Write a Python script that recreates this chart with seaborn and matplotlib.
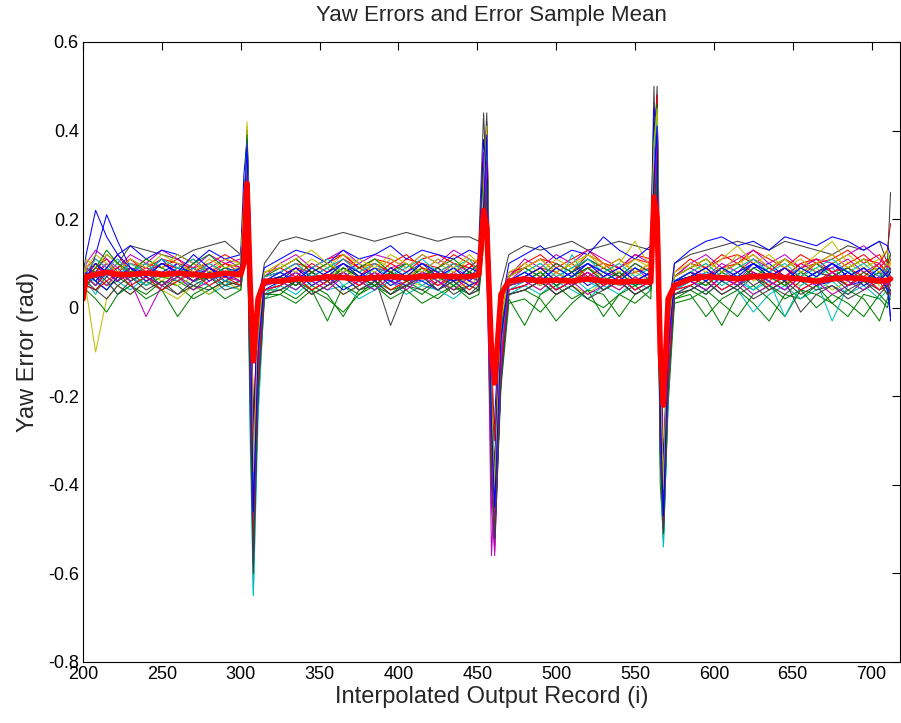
import numpy as np
import pandas as pd
import matplotlib
matplotlib.use("Agg")
import matplotlib.pyplot as plt
import seaborn as sns

# shared sample positions (interpolated output record index)
x_grid = [200, 202, 208, 215, 222, 230, 240, 250, 260, 270, 280, 290, 300,
          302, 304, 306, 308, 311, 315,
          325, 335, 345, 355, 365, 375, 385, 395, 405, 415, 425, 435, 445, 451,
          454, 456, 459, 461, 465, 470,
          480, 490, 500, 510, 520, 530, 540, 550, 560,
          562, 564, 566, 568, 571, 575,
          585, 595, 605, 615, 625, 635, 645, 655, 665, 675, 685, 695, 705, 710, 712]

# individual yaw error runs (rad)
run01 = [.03,.06,.12,.21,.15,.09,.08,.10,.09,.08,.07,.09,.08, .12,.38,.10,-.35,-.05,.05, .06,.09,.07,.06,.08,.10,.07,.06,.05,.08,.07,.06,.07,.09, .30,.10,-.40,-.25,.02,.06, .07,.05,.08,.06,.09,.07,.05,.06,.08, .40,.15,-.30,-.45,-.05,.04, .06,.08,.07,.05,.09,.10,.07,.06,.08,.07,.05,.06,.08,.04,.06]
run02 = [.05,.08,.06,.04,.07,.05,.03,.06,.05,.02,.04,.06,.05, .20,.33,-.05,-.45,-.10,.04, .04,.02,.05,.03,-.02,.04,.05,.03,.06,.04,.02,.05,.03,.04, .25,.30,-.35,-.45,-.05,.03, .04,.02,-.03,.01,.04,.03,-.02,.03,.05, .30,.42,-.10,-.45,-.15,.02, .03,-.02,.02,.04,.01,-.03,.03,.02,.05,.01,-.02,.03,.02,.00,.03]
run03 = [.04,.07,.09,.11,.08,.10,.09,.11,.10,.09,.10,.08,.09, .15,.30,.12,-.25,-.02,.07, .08,.10,.09,.11,.12,.09,.10,.08,.11,.10,.09,.12,.10,.09, .20,.40,-.10,-.30,.00,.08, .09,.11,.10,.08,.12,.10,.09,.11,.10, .25,.45,.05,-.35,-.10,.07, .10,.09,.11,.12,.10,.08,.11,.09,.10,.12,.09,.11,.10,.13,.19]
run04 = [.02,.05,.04,.06,.03,.05,.07,.04,.06,.05,.03,.05,.04, .10,.25,-.20,-.65,-.20,.02, .05,.03,.06,.04,.05,.02,.04,.06,.03,.05,.04,.02,.05,.04, .15,.35,-.15,-.50,-.10,.03, .05,.03,.06,.04,.02,.05,.03,.06,.04, .20,.38,-.20,-.54,-.20,.03, .05,.03,.06,.04,-.01,.03,.05,.02,.04,.06,.03,.05,.02,.04,.05]
run05 = [.03,.06,.08,.10,.07,.09,.06,.08,.07,.10,.08,.06,.08, .18,.35,.00,-.40,-.08,.06, .07,.09,.06,.08,.10,.07,.09,.08,.06,.09,.07,.10,.08,.07, .35,.20,-.56,-.40,-.05,.06, .08,.06,.09,.07,.10,.08,.07,.09,.06, .35,.30,-.25,-.40,-.08,.06, .08,.07,.09,.06,.10,.08,.07,.09,.11,.08,.06,.09,.07,.10,.08]
run06 = [.01,.04,-.10,.02,.05,.03,.06,.04,.02,.05,.03,.06,.04, .12,.42,.05,-.62,-.15,.04, .05,.07,.04,.06,.03,.05,.07,.04,.06,.05,.07,.04,.06,.05, .22,.38,-.20,-.48,-.08,.05, .06,.04,.07,.05,.03,.06,.04,.07,.05, .28,.46,-.15,-.50,-.12,.05, .06,.04,.07,.05,.08,.04,.06,.05,.07,.04,.06,.08,.05,.03,.06]
run07 = [.05,.09,.08,.12,.10,.14,.13,.12,.11,.13,.14,.15,.12, .20,.40,.15,-.30,.00,.10, .15,.16,.15,.16,.17,.16,.15,.16,.17,.16,.15,.16,.16,.15, .44,.25,-.25,-.35,.05,.12, .14,.13,.14,.15,.13,.14,.15,.14,.13, .50,.20,-.30,-.42,-.02,.10, .12,.13,.14,.15,.14,.13,.15,.14,.13,.12,.14,.13,.15,.10,.26]
run08 = [.04,.08,.10,.07,.09,.06,.08,.11,.07,.09,.06,.08,.07, .22,.36,-.10,-.50,-.12,.05, .07,.05,.08,.06,.09,.07,.05,.08,.06,.07,.09,.06,.08,.07, .28,.42,-.30,-.52,-.12,.05, .07,.09,.06,.08,.05,.07,.09,.06,.08, .38,.48,-.20,-.48,-.10,.06, .07,.09,.06,.08,.10,.07,.09,.06,.08,.10,.07,.09,.06,.08,-.03]
run09 = [.02,.05,.07,.05,.06,.08,.05,.07,.06,.04,.07,.05,.06, .14,.28,-.15,-.55,-.18,.03, .03,.06,.04,-.03,.05,.03,.06,.04,.05,.03,.06,.04,.05,.06, .18,.33,-.40,-.48,-.15,.02, -.04,.03,.05,.02,.04,-.02,.03,.05,.02, .25,.35,-.35,-.52,-.18,.02, .04,.02,-.04,.03,.05,.02,-.02,.04,.03,.01,.04,.02,-.03,.02,.04]
run10 = [.06,.09,.11,.09,.12,.08,.10,.09,.11,.08,.10,.12,.10, .25,.32,.08,-.35,-.05,.08, .09,.11,.08,.10,.12,.09,.11,.10,.08,.11,.12,.10,.09,.11, .32,.36,-.15,-.40,-.02,.07, .10,.12,.09,.11,.13,.10,.09,.12,.11, .42,.38,-.10,-.38,-.05,.08, .11,.09,.12,.10,.13,.11,.09,.12,.10,.11,.13,.10,.12,.09,.11]
run11 = [.03,.07,.05,.08,.06,.04,.07,.05,.08,.06,.05,.07,.06, .16,.30,-.05,-.48,-.12,.05, .06,.04,.07,.05,.08,.06,.04,.07,.05,.06,.08,.05,.07,.06, .24,.32,-.30,-.45,-.10,.04, .06,.08,.05,.07,.04,.06,.08,.05,.07, .32,.40,-.25,-.46,-.14,.04, .06,.05,.08,.06,.04,.07,.05,.08,.06,-.03,.05,.07,.06,.08,.05]
run12 = [.04,.10,.13,.11,.09,.12,.10,.13,.11,.09,.12,.10,.11, .24,.34,.02,-.38,-.06,.07, .10,.12,.09,.11,.13,.10,.12,.11,.09,.12,.10,.13,.11,.10, .26,.38,-.45,-.55,-.10,.07, .11,.09,.12,.10,.13,.11,.09,.12,.10, .30,.44,-.28,-.44,-.06,.07, .10,.12,.09,.11,.13,.10,.12,.09,.11,.10,.12,.14,.11,.09,.12]
run13 = [.05,.08,.06,.09,.07,.10,.08,.06,.09,.07,.10,.08,.07, .18,.41,.10,-.45,-.10,.06, .08,.06,.09,.07,.10,.08,.11,.09,.07,.10,.08,.06,.09,.08, .20,.34,-.25,-.42,-.06,.06, .08,.10,.07,.09,.06,.08,.10,.15,.09, .26,.36,-.18,-.40,-.08,.06, .08,.10,.07,.09,.11,.08,.06,.09,.12,.15,.10,.08,.09,.07,.10]
run14 = [.03,.05,.04,.07,.05,.03,.06,.04,.07,.05,.04,.06,.05, .12,.22,-.12,-.52,-.14,.04, .05,.07,.04,.06,.03,.05,.07,-.04,.05,.04,.06,.03,.05,.04, .16,.30,-.35,-.50,-.12,.03, .04,.06,.03,.05,.07,.04,.06,.03,.05, .22,.32,-.30,-.50,-.16,.03, .05,.03,.06,.04,.07,.05,.03,.06,.04,.05,.03,.06,.04,.05,.03]
run15 = [.07,.12,.22,.16,.12,.14,.11,.13,.12,.10,.13,.11,.12, .30,.38,.20,-.28,.02,.09, .11,.13,.12,.10,.13,.11,.12,.14,.11,.13,.12,.11,.13,.12, .38,.30,-.20,-.38,.00,.10, .12,.14,.11,.13,.12,.16,.13,.11,.14, .45,.40,-.12,-.36,-.02,.10, .13,.15,.16,.14,.15,.13,.16,.15,.14,.16,.15,.13,.15,.14,.12]
run16 = [.02,.04,.02,-.01,.03,.05,.02,.04,-.02,.03,.05,.02,.04, .10,.26,-.25,-.58,-.22,.02, .03,.01,.04,.02,-.01,.03,.05,.02,.04,.01,.03,.05,.02,.03, .14,.28,-.38,-.54,-.18,.01, .02,-.01,.03,.05,.02,.00,.03,.01,.04, .18,.30,-.40,-.52,-.22,.01, .02,.04,.01,-.02,.03,.05,.02,.04,.00,.03,.01,-.02,.03,.01,.02]
run17 = [.05,.07,.09,.08,.10,.07,.09,.08,.06,.09,.07,.10,.08, .20,.34,.04,-.42,-.08,.06, .07,.09,.08,.06,.09,.07,.10,.08,.07,.09,.06,.08,.10,.08, .24,.36,-.28,-.46,-.06,.06, .07,.09,.08,.06,.09,.10,.07,.08,.09, .34,.42,-.22,-.44,-.08,.06, .08,.07,.09,.10,.08,.06,.09,.07,.10,.08,.09,.07,.10,.08,.07]
run18 = [.04,.06,.03,.08,.10,.07,.05,.08,.06,.09,.07,.05,.08, .14,.24,-.30,-.65,-.25,.03, .06,.04,.07,.09,.05,.07,.04,.06,.08,.05,.07,.09,.06,.05, .18,.32,-.32,-.50,-.14,.04, .05,.07,.04,.12,.06,.04,.07,.05,.06, .24,.34,-.34,-.54,-.20,.04, .06,.08,.05,.07,.04,.06,-.02,.05,.07,.09,.06,.04,.07,.05,.06]
run19 = [.06,.09,.07,.10,.08,.11,.09,.07,.10,.08,.09,.11,.09, .22,.36,.06,-.44,-.10,.07, .08,.10,.07,.09,.11,.08,.06,.09,.10,.08,.11,.09,.07,.09, .30,.40,-.35,-.56,-.14,.06, .09,.07,.10,.08,.11,.09,.07,.10,.08, .36,.42,-.20,-.46,-.10,.07, .09,.07,.10,.08,.11,.09,.07,.10,.08,.09,.11,.08,.10,.07,.09]
run20 = [.03,.06,.08,.05,.07,.09,.06,.08,.05,.07,.09,.06,.07, .16,.32,-.08,-.50,-.12,.05, .06,.08,.05,.07,.09,.06,.08,.05,.07,.09,.06,.08,.05,.07, .22,.34,-.30,-.48,-.10,.05, .07,.05,.08,.06,.09,.07,.05,.08,.06, .28,.40,-.26,-.48,-.12,.05, .07,.05,.08,.12,.06,.08,.05,.07,.09,.06,.08,.05,.07,.09,.06]
run21 = [.02,.07,.05,.09,.06,.08,.10,.07,.09,.06,.08,.07,.09, .14,.30,-.02,-.40,-.08,.06, .07,.05,.08,.06,.09,.07,.05,.08,.06,.07,.09,.06,.08,.07, .28,.44,-.22,-.44,-.06,.05, .06,.08,.05,.07,.09,.06,.08,.05,.07, .32,.50,-.18,-.42,-.06,.06, .07,.09,.06,.08,.05,.07,.09,.06,.08,.07,.05,.08,.06,.09,.07]
run22 = [.05,.08,.06,.04,.07,.09,.06,.08,.10,.07,.09,.06,.08, .18,.34,-.18,-.58,-.16,.04, .06,.08,.05,.07,.04,.06,.08,.05,.07,.06,.04,.07,.05,.06, .20,.36,-.32,-.52,-.16,.04, .05,.07,.04,.06,.08,.05,.07,.04,.06, .40,.46,-.28,-.50,-.14,.05, .06,.04,.07,.05,.08,.06,.04,.07,.05,.06,.08,.05,.07,.04,-.02]
run23 = [.04,.07,.05,.08,.06,.09,.07,.05,.08,.06,.07,.09,.07, .20,.39,.00,-.47,-.10,.05, .07,.05,.08,.06,.09,.07,.05,.08,.06,.09,.07,.05,.08,.06, .26,.38,-.26,-.46,-.08,.05, .06,.08,.05,.07,.09,.06,.08,.05,.07, .30,.44,-.22,-.46,-.10,.06, .07,.05,.08,.06,.09,.07,.05,.08,.06,.07,.09,.06,.08,.05,.07]
run24 = [.05,.08,.10,.08,.09,.11,.08,.10,.09,.11,.08,.10,.09, .26,.31,.12,-.32,-.04,.08, .09,.07,.10,.08,.11,.09,.07,.10,.12,.09,.08,.10,.09,.11, .22,.40,-.18,-.42,-.04,.07, .09,.11,.08,.10,.07,.09,.11,.08,.10, .34,.48,-.16,-.40,-.06,.07, .09,.11,.08,.10,.12,.09,.07,.10,.11,.08,.10,.12,.09,.11,.08]
run25 = [.04,.07,.06,.09,.11,.08,.10,.07,.09,.11,.08,.06,.09, .12,.28,.02,-.44,-.10,.06, .08,.06,.09,.11,.08,.06,.09,.07,.10,.08,.06,.09,.11,.08, .18,.30,-.22,-.40,-.06,.06, .08,.06,.09,.07,.10,.08,.06,.09,.07, .22,.36,-.20,-.42,-.08,.06, .08,.06,.09,.07,.10,.08,.06,.09,.07,.10,.08,.06,.09,.07,.08]
run26 = [.03,.09,.07,.05,.08,.06,-.02,.05,.07,.04,.06,.08,.06, .18,.35,-.12,-.52,-.14,.04, .05,.08,.06,.04,.07,.05,.08,.06,.04,.07,.05,.08,.06,.05, .24,.35,-.33,-.50,-.12,.04, .05,.07,.04,.06,.03,.05,.07,.04,.06, .28,.38,-.30,-.50,-.14,.04, .05,.07,.04,.06,.03,.05,.07,.04,.06,.03,.05,.07,.04,.06,.03]
run27 = [.06,.11,.09,.12,.10,.08,.11,.09,.12,.10,.08,.11,.10, .22,.37,.08,-.36,-.06,.08, .10,.08,.11,.09,.12,.10,.08,.11,.09,.12,.10,.08,.11,.10, .26,.39,-.20,-.44,-.04,.08, .10,.08,.11,.09,.12,.10,.08,.11,.09, .36,.44,-.15,-.40,-.04,.08, .10,.08,.11,.14,.10,.12,.09,.11,.08,.10,.12,.09,.11,.13,.10]
run28 = [.02,.05,.08,.06,.03,.06,.08,.05,.03,.06,.08,.05,.06, .15,.29,-.22,-.60,-.20,.03, .04,.06,.03,.05,.07,.04,.06,.03,.05,.07,.04,.06,.03,.05, .16,.26,-.36,-.52,-.16,.03, .04,.06,.03,.05,.02,.04,.06,.03,.05, .20,.34,-.32,-.50,-.18,.03, .04,.06,.03,.05,.02,.04,.06,-.01,.03,.05,.02,.04,.06,.03,.04]
run29 = [.05,.07,.10,.08,.06,.09,.07,.10,.08,.06,.09,.07,.08, .20,.33,.03,-.41,-.09,.06, .07,.09,.06,.08,.10,.07,.09,.06,.08,.10,.07,.09,.06,.08, .28,.37,-.24,-.45,-.07,.06, .07,.09,.06,.08,.10,.07,.09,.06,.08, .33,.41,-.19,-.44,-.07,.06, .07,.09,.06,.08,.10,.07,.09,.06,.08,.10,.07,.09,.06,.08,.09]
run30 = [.04,.06,.09,.13,.10,.08,.11,.09,.07,.10,.12,.09,.10, .24,.36,.06,-.39,-.07,.07, .09,.11,.08,.10,.07,.09,.11,.08,.10,.07,.09,.11,.08,.10, .30,.38,-.18,-.43,-.05,.07, .09,.07,.10,.08,.11,.09,.07,.10,.08, .38,.46,-.14,-.42,-.05,.07, .09,.11,.08,.10,.07,.09,.11,.08,.10,.07,.09,.11,.08,.10,.12]
run31 = [.03,.05,.04,.06,.08,.05,.07,.04,.06,.08,.05,.07,.05, .13,.27,-.14,-.54,-.15,.04, .05,.07,.04,.06,.08,.05,.07,.04,.06,.08,.05,.07,.04,.06, .20,.31,-.34,-.49,-.13,.04, .05,.07,.04,.06,.08,.05,.07,.04,.06, .26,.37,-.29,-.49,-.15,.04, .05,.07,.04,.06,.08,.05,.07,.04,.06,.08,.05,.07,.04,.06,.05]
run32 = [.06,.08,.11,.09,.07,.10,.08,.11,.09,.07,.10,.08,.09, .21,.35,.05,-.43,-.09,.07, .08,.10,.07,.09,.11,.08,.10,.07,.09,.11,.08,.10,.07,.09, .25,.37,-.27,-.47,-.09,.06, .08,.10,.07,.09,.11,.08,.10,.07,.09, .31,.43,-.21,-.45,-.09,.06, .08,.10,.07,.09,.11,.08,.10,.07,.09,.11,.08,.10,.07,.09,.08]
run33 = [.04,.07,.05,.08,.06,.09,.07,.05,.08,.06,.09,.07,.06, .17,.31,-.06,-.47,-.11,.05, .06,.04,.07,.05,.08,.06,.04,.07,.05,.08,.06,.04,.07,.06, .21,.33,-.29,-.47,-.11,.05, .06,.04,.07,.05,.08,.06,.04,.07,.05, .27,.39,-.24,-.47,-.11,.05, .06,.04,.07,.05,.08,.06,.04,.07,.05,.08,.06,.04,.07,.05,.06]
run34 = [.05,.09,.12,.10,.08,.11,.09,.12,.10,.08,.11,.09,.10, .23,.34,.07,-.37,-.06,.08, .09,.11,.13,.10,.08,.11,.09,.12,.10,.08,.11,.09,.12,.10, .27,.41,-.21,-.41,-.03,.07, .09,.11,.08,.10,.12,.09,.11,.08,.10, .37,.45,-.17,-.41,-.06,.07, .09,.11,.08,.10,.12,.09,.11,.08,.10,.12,.09,.11,.08,.10,.09]
run35 = [.03,.06,.04,.02,.05,.07,.04,.06,.03,.05,.07,.04,.05, .11,.23,-.19,-.57,-.19,.03, .04,.06,.03,.05,.07,.04,.06,.03,.05,.07,.04,.06,.03,.04, .17,.29,-.37,-.51,-.17,.03, .04,.06,.03,.05,.07,.04,.06,.03,.05, .21,.33,-.33,-.51,-.19,.03, .04,.06,.03,.05,.07,.04,.06,.03,.05,.07,.04,.06,.03,.05,.04]
run36 = [.05,.08,.06,.09,.12,.09,.07,.10,.08,.12,.09,.07,.09, .19,.37,.01,-.46,-.10,.06, .08,.06,.09,.07,.10,.08,.06,.09,.07,.10,.08,.06,.09,.08, .23,.39,-.26,-.45,-.07,.06, .08,.06,.09,.07,.10,.08,.06,.09,.07, .29,.41,-.23,-.47,-.09,.06, .08,.06,.09,.07,.10,.08,.06,.09,.07,.10,.08,.06,.09,.07,.08]

# error sample mean (rad)
sample_mean = [.02,.07,.075,.08,.075,.075,.078,.075,.078,.075,.072,.078,.075, .10,.28,.05,-.12,.02,.06, .06,.065,.065,.07,.068,.065,.068,.07,.068,.07,.072,.07,.07,.075, .22,.18,-.10,-.17,.03,.06, .065,.06,.062,.06,.065,.06,.058,.06,.058, .25,.20,-.10,-.22,.02,.05, .065,.07,.068,.065,.07,.072,.068,.065,.06,.065,.068,.065,.06,.062,.065]

runs = [run01, run02, run03, run04, run05, run06, run07, run08, run09, run10, run11, run12,
        run13, run14, run15, run16, run17, run18, run19, run20, run21, run22, run23, run24,
        run25, run26, run27, run28, run29, run30, run31, run32, run33, run34, run35, run36]

x_ticks = [200, 250, 300, 350, 400, 450, 500, 550, 600, 650, 700]
y_ticks = [-0.8, -0.6, -0.4, -0.2, 0, 0.2, 0.4, 0.6]
y_tick_labels = ["-0.8", "-0.6", "-0.4", "-0.2", "0", "0.2", "0.4", "0.6"]

# MATLAB classic colour order
matlab_colors = [(0, 0, 1), (0, 0.5, 0), (1, 0, 0), (0, 0.75, 0.75),
                 (0.75, 0, 0.75), (0.75, 0.75, 0), (0.25, 0.25, 0.25)]

sns.set_style("white")
plt.rcParams['font.family'] = ['Liberation Sans', 'DejaVu Sans']

rows = []
for i, r in enumerate(runs):
    for xv, yv in zip(x_grid, r):
        rows.append((i, xv, yv))
df = pd.DataFrame(rows, columns=["run", "record", "err"])
palette = {i: matlab_colors[i % 7] for i in range(len(runs))}

fig = plt.figure(figsize=(9.01, 7.23), dpi=100)
ax = fig.add_axes([83 / 901, 61 / 723, 817 / 901, 620 / 723])

sns.lineplot(data=df, x="record", y="err", hue="run", palette=palette,
             estimator=None, sort=False, legend=False, linewidth=0.75, ax=ax)
mean_df = pd.DataFrame({"record": x_grid, "err": sample_mean})
sns.lineplot(data=mean_df, x="record", y="err", color=(1, 0, 0),
             estimator=None, sort=False, linewidth=4, ax=ax)

ax.set_xlim(200, 718)
ax.set_ylim(-0.8, 0.6)
ax.set_xticks(x_ticks)
ax.set_xticklabels([str(t) for t in x_ticks])
ax.set_yticks(y_ticks)
ax.set_yticklabels(y_tick_labels)
ax.tick_params(direction="in", length=6, width=0.8, top=True, right=True,
               labelsize=13, colors="black", pad=3)
for s in ax.spines.values():
    s.set_visible(True)
    s.set_color("black")
    s.set_linewidth(0.8)

ax.set_title("Yaw Errors and Error Sample Mean", fontsize=16, pad=15)
ax.set_xlabel("Interpolated Output Record (i)", fontsize=17, labelpad=2)
ax.set_ylabel("Yaw Error (rad)", fontsize=17, labelpad=6)

fig.savefig("out.png", dpi=100, facecolor="white")
